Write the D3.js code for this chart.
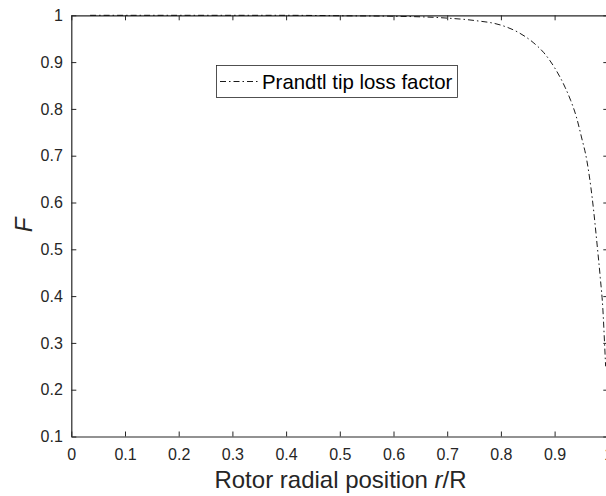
<!DOCTYPE html>
<html><head><meta charset="utf-8">
<script src="https://cdn.jsdelivr.net/npm/d3@7"></script>
<style>body{margin:0;background:#fff;}svg{display:block;font-family:"Liberation Sans",Arial,sans-serif;}</style>
</head><body>
<svg id="c" width="606" height="496"></svg>
<script>
const radialPos = [0.035,0.1,0.2,0.3,0.4,0.5,0.6,0.7,0.75,0.8,0.83,0.86,0.88,0.9,0.92,0.93,0.94,0.95,0.96,0.97,0.98,0.985,0.99,0.993,0.995];
const tipLoss   = [1.0,1.0,1.0,1.0,1.0,0.999,0.998,0.994,0.989,0.979,0.965,0.942,0.92,0.888,0.845,0.818,0.785,0.74,0.69,0.61,0.50,0.44,0.37,0.30,0.25];
const xTicks = [0,0.1,0.2,0.3,0.4,0.5,0.6,0.7,0.8,0.9,1];
const yTicks = [0.1,0.2,0.3,0.4,0.5,0.6,0.7,0.8,0.9,1];
const seriesName = "Prandtl tip loss factor";

const svg = d3.select("#c");
const L=71.3, R=608.3, T=15.3, B=436.5;
const x = d3.scaleLinear().domain([0,1]).range([L,R]);
const y = d3.scaleLinear().domain([0.1,1]).range([B,T]);
const axisCol="#262626";
const fmt = d => d===0||d===1 ? String(d) : d3.format(".1f")(d);

const gx = svg.append("g").attr("transform",`translate(0,${B})`)
  .call(d3.axisBottom(x).tickValues(xTicks).tickFormat(fmt).tickSizeInner(-5).tickSizeOuter(0).tickPadding(12));
const gy = svg.append("g").attr("transform",`translate(${L},0)`)
  .call(d3.axisLeft(y).tickValues(yTicks).tickFormat(fmt).tickSizeInner(-5).tickSizeOuter(0).tickPadding(8.5));
const gt = svg.append("g").attr("transform",`translate(0,${T})`)
  .call(d3.axisTop(x).tickValues(xTicks).tickFormat("").tickSizeInner(-5).tickSizeOuter(0));
const gr = svg.append("g").attr("transform",`translate(${R},0)`)
  .call(d3.axisRight(y).tickValues(yTicks).tickFormat("").tickSizeInner(-5).tickSizeOuter(0));
[gx,gy,gt,gr].forEach(g=>{
  g.attr("font-size",null).attr("font-family",null);
  g.selectAll("path").attr("stroke",axisCol).attr("stroke-width",1.2);
  g.selectAll("line").attr("stroke",axisCol).attr("stroke-width",1);
  g.selectAll("text").attr("fill",axisCol).style("font-size","16px").style("font-family","'Liberation Sans',Arial,sans-serif");
});

const line = d3.line().x((d,i)=>x(radialPos[i])).y((d,i)=>y(tipLoss[i])).curve(d3.curveMonotoneX);
svg.append("path").datum(tipLoss).attr("d",line).attr("fill","none")
  .attr("stroke","#000").attr("stroke-width",0.9).attr("stroke-dasharray","6,3,1.5,3");

// legend
const lg = svg.append("g");
lg.append("rect").attr("x",216.5).attr("y",65.5).attr("width",241).attr("height",32)
  .attr("fill","#fff").attr("stroke",axisCol).attr("stroke-width",0.8);
lg.append("line").attr("x1",220).attr("x2",259).attr("y1",81.5).attr("y2",81.5)
  .attr("stroke","#000").attr("stroke-width",0.9).attr("stroke-dasharray","6,3,1.5,3");
lg.append("text").attr("x",262).attr("y",88.5).text(seriesName)
  .attr("fill","#000").style("font-size","20.4px");

// axis labels
const xl = svg.append("text").attr("x",340.5).attr("y",488).attr("text-anchor","middle")
  .attr("fill",axisCol).style("font-size","24px");
xl.append("tspan").text("Rotor radial position ");
xl.append("tspan").style("font-style","italic").text("r");
xl.append("tspan").text("/R");
svg.append("text").attr("transform",`translate(32,${225}) rotate(-90)`).attr("text-anchor","middle")
  .attr("fill",axisCol).style("font-size","24px").style("font-style","italic").text("F");
</script>
</body></html>
